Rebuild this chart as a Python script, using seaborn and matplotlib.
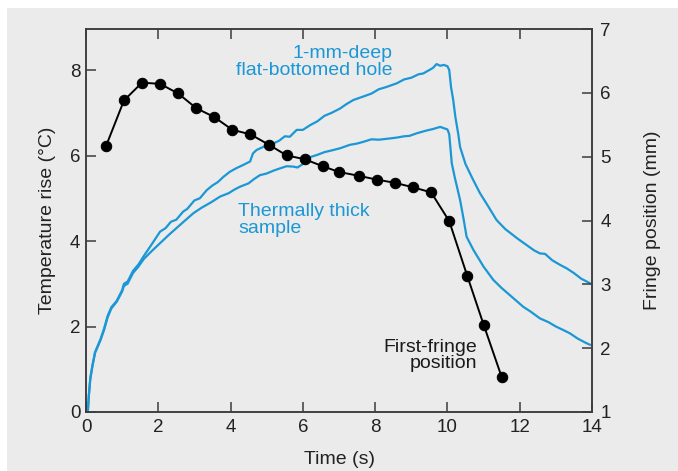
import numpy as np
import pandas as pd
import matplotlib
matplotlib.use("Agg")
import matplotlib.pyplot as plt
from matplotlib.patches import Rectangle
import seaborn as sns

# ---------------- data ----------------
# Temperature rise, 1-mm-deep flat-bottomed hole (left axis)
hole_time = [0.05, 0.08, 0.12, 0.18, 0.25, 0.30, 0.40, 0.50, 0.60, 0.70, 0.85, 1.00, 1.05, 1.15,
             1.30, 1.45, 1.60, 1.80, 2.05, 2.20, 2.35, 2.50, 2.69, 2.80, 3.00, 3.15, 3.34, 3.50,
             3.65, 3.80, 3.98, 4.15, 4.35, 4.54, 4.62, 4.72, 4.90, 5.05, 5.18, 5.35, 5.50, 5.64,
             5.83, 6.00, 6.20, 6.40, 6.60, 6.80, 7.03, 7.20, 7.40, 7.67, 7.90, 8.10, 8.30, 8.60,
             8.80, 9.00, 9.20, 9.33, 9.50, 9.60, 9.70, 9.80, 9.90, 10.00, 10.05, 10.10, 10.16,
             10.22, 10.30, 10.35, 10.50, 10.70, 10.90, 11.10, 11.36, 11.60, 11.92, 12.00, 12.20,
             12.40, 12.56, 12.70, 12.90, 13.10, 13.30, 13.50, 13.70, 13.95]
hole_temp = [0.00, 0.40, 0.80, 1.10, 1.40, 1.50, 1.70, 1.95, 2.25, 2.45, 2.60, 2.85, 3.00, 3.05,
             3.30, 3.45, 3.65, 3.90, 4.22, 4.30, 4.45, 4.50, 4.69, 4.75, 4.95, 5.00, 5.19, 5.30,
             5.38, 5.50, 5.62, 5.70, 5.78, 5.86, 6.05, 6.13, 6.20, 6.25, 6.28, 6.35, 6.45, 6.44,
             6.60, 6.60, 6.71, 6.80, 6.93, 7.00, 7.10, 7.20, 7.30, 7.38, 7.45, 7.55, 7.60, 7.69,
             7.78, 7.82, 7.90, 7.92, 8.00, 8.05, 8.14, 8.10, 8.12, 8.09, 8.00, 7.60, 7.30,
             6.90, 6.50, 6.20, 5.80, 5.45, 5.12, 4.85, 4.49, 4.28, 4.07, 4.02, 3.90,
             3.78, 3.71, 3.70, 3.55, 3.45, 3.36, 3.25, 3.12, 3.01]

# Temperature rise, thermally thick sample (left axis)
thick_time = [0.05, 0.08, 0.12, 0.18, 0.25, 0.30, 0.40, 0.50, 0.60, 0.70, 0.85, 1.00, 1.05, 1.15,
              1.30, 1.45, 1.60, 1.80, 2.05, 2.30, 2.50, 2.70, 2.97, 3.20, 3.45, 3.71, 3.95, 4.10,
              4.26, 4.50, 4.65, 4.81, 5.00, 5.20, 5.37, 5.55, 5.74, 5.85, 6.00, 6.15, 6.38, 6.60,
              6.80, 7.03, 7.30, 7.50, 7.67, 7.90, 8.10, 8.41, 8.60, 8.80, 8.95, 9.15, 9.40, 9.60,
              9.80, 9.90, 10.00, 10.05, 10.12, 10.20, 10.35, 10.45, 10.53, 10.72, 11.00, 11.27,
              11.50, 11.80, 12.10, 12.30, 12.56, 12.80, 13.00, 13.20, 13.39, 13.60, 13.80, 13.95]
thick_temp = [0.00, 0.40, 0.78, 1.08, 1.38, 1.48, 1.68, 1.92, 2.22, 2.42, 2.58, 2.82, 2.95, 3.00,
              3.25, 3.40, 3.58, 3.75, 3.95, 4.15, 4.30, 4.45, 4.65, 4.78, 4.90, 5.04, 5.12, 5.20,
              5.27, 5.35, 5.45, 5.54, 5.58, 5.65, 5.70, 5.75, 5.74, 5.72, 5.80, 5.95, 6.01, 6.08,
              6.12, 6.17, 6.25, 6.28, 6.32, 6.38, 6.37, 6.40, 6.42, 6.45, 6.46, 6.52, 6.58, 6.62,
              6.67, 6.64, 6.61, 6.50, 5.82, 5.50, 4.96, 4.50, 4.10, 3.79, 3.40, 3.09,
              2.90, 2.68, 2.46, 2.35, 2.19, 2.10, 2.00, 1.92, 1.84, 1.72, 1.63, 1.57]

# First-fringe position (right axis, mm)
fringe_time = [0.55, 1.05, 1.55, 2.05, 2.55, 3.05, 3.55, 4.05, 4.55, 5.05, 5.55, 6.05,
               6.55, 7.00, 7.55, 8.05, 8.55, 9.05, 9.55, 10.05, 10.55, 11.00, 11.50]
fringe_pos = [5.16, 5.88, 6.16, 6.14, 5.99, 5.76, 5.62, 5.42, 5.35, 5.19, 5.02, 4.96,
              4.85, 4.76, 4.70, 4.64, 4.59, 4.52, 4.44, 3.99, 3.13, 2.37, 1.55]

x_ticks = [0, 2, 4, 6, 8, 10, 12, 14]
left_ticks = [0, 2, 4, 6, 8]
right_ticks = [1, 2, 3, 4, 5, 6, 7]

# ---------------- style ----------------
sns.set_theme(style="ticks")
plt.rcParams["font.family"] = ["Liberation Sans", "DejaVu Sans"]
BLUE = "#1b97d5"
BG = "#ebebeb"
SPINE = "#3c3c3c"

fig = plt.figure(figsize=(6.78, 4.71), dpi=100)
fig.patch.set_facecolor("white")
fig.patches.append(Rectangle((7 / 678, 0), 1, (471 - 8) / 471, transform=fig.transFigure,
                             facecolor=BG, edgecolor="none", zorder=-10))

ax = fig.add_axes([86 / 678, 1 - 412 / 471, (592 - 86) / 678, (412 - 29) / 471])
ax.set_facecolor("none")

sns.lineplot(x=hole_time, y=hole_temp, ax=ax, color=BLUE, lw=1.6, sort=False, estimator=None)
sns.lineplot(x=thick_time, y=thick_temp, ax=ax, color=BLUE, lw=1.6, sort=False, estimator=None)

ax.set_xlim(0, 14)
ax.set_ylim(0, 8.96)
ax.set_xticks(x_ticks)
ax.set_yticks(left_ticks)

ax2 = ax.twinx()
sns.lineplot(x=fringe_time, y=fringe_pos, ax=ax2, color="black", lw=1.4,
             marker="o", markersize=7.5, markeredgecolor="black", sort=False, estimator=None)
ax2.set_ylim(1, 7)
ax2.set_yticks(right_ticks)

for a in (ax, ax2):
    for s in a.spines.values():
        s.set_visible(True)
        s.set_color(SPINE)
        s.set_linewidth(1.1)

ax.tick_params(axis="both", direction="in", length=7, width=1.1, color=SPINE,
               labelsize=13.5, labelcolor="#222222", top=True, right=False, pad=4)
ax.tick_params(axis="x", pad=5)
ax2.tick_params(axis="y", direction="in", length=7, width=1.1, color=SPINE,
                labelsize=13.5, labelcolor="#222222", pad=6)

ax.set_xlabel("Time (s)", fontsize=14, color="#222222", labelpad=11)
ax.set_ylabel("Temperature rise (\u00b0C)", fontsize=14, color="#222222", labelpad=10)
ax2.set_ylabel("Fringe position (mm)", fontsize=14, color="#222222", labelpad=24)

ax.text(8.49, 8.19, "1-mm-deep\nflat-bottomed hole", color=BLUE, fontsize=14,
        ha="right", va="center", multialignment="right", linespacing=1.0)
ax.text(4.21, 4.49, "Thermally thick\nsample", color=BLUE, fontsize=14,
        ha="left", va="center", multialignment="left", linespacing=1.0)
ax.text(10.83, 1.32, "First-fringe\nposition", color="#1a1a1a", fontsize=14,
        ha="right", va="center", multialignment="right", linespacing=0.95)

fig.savefig("out.png", dpi=100, facecolor=fig.get_facecolor())
